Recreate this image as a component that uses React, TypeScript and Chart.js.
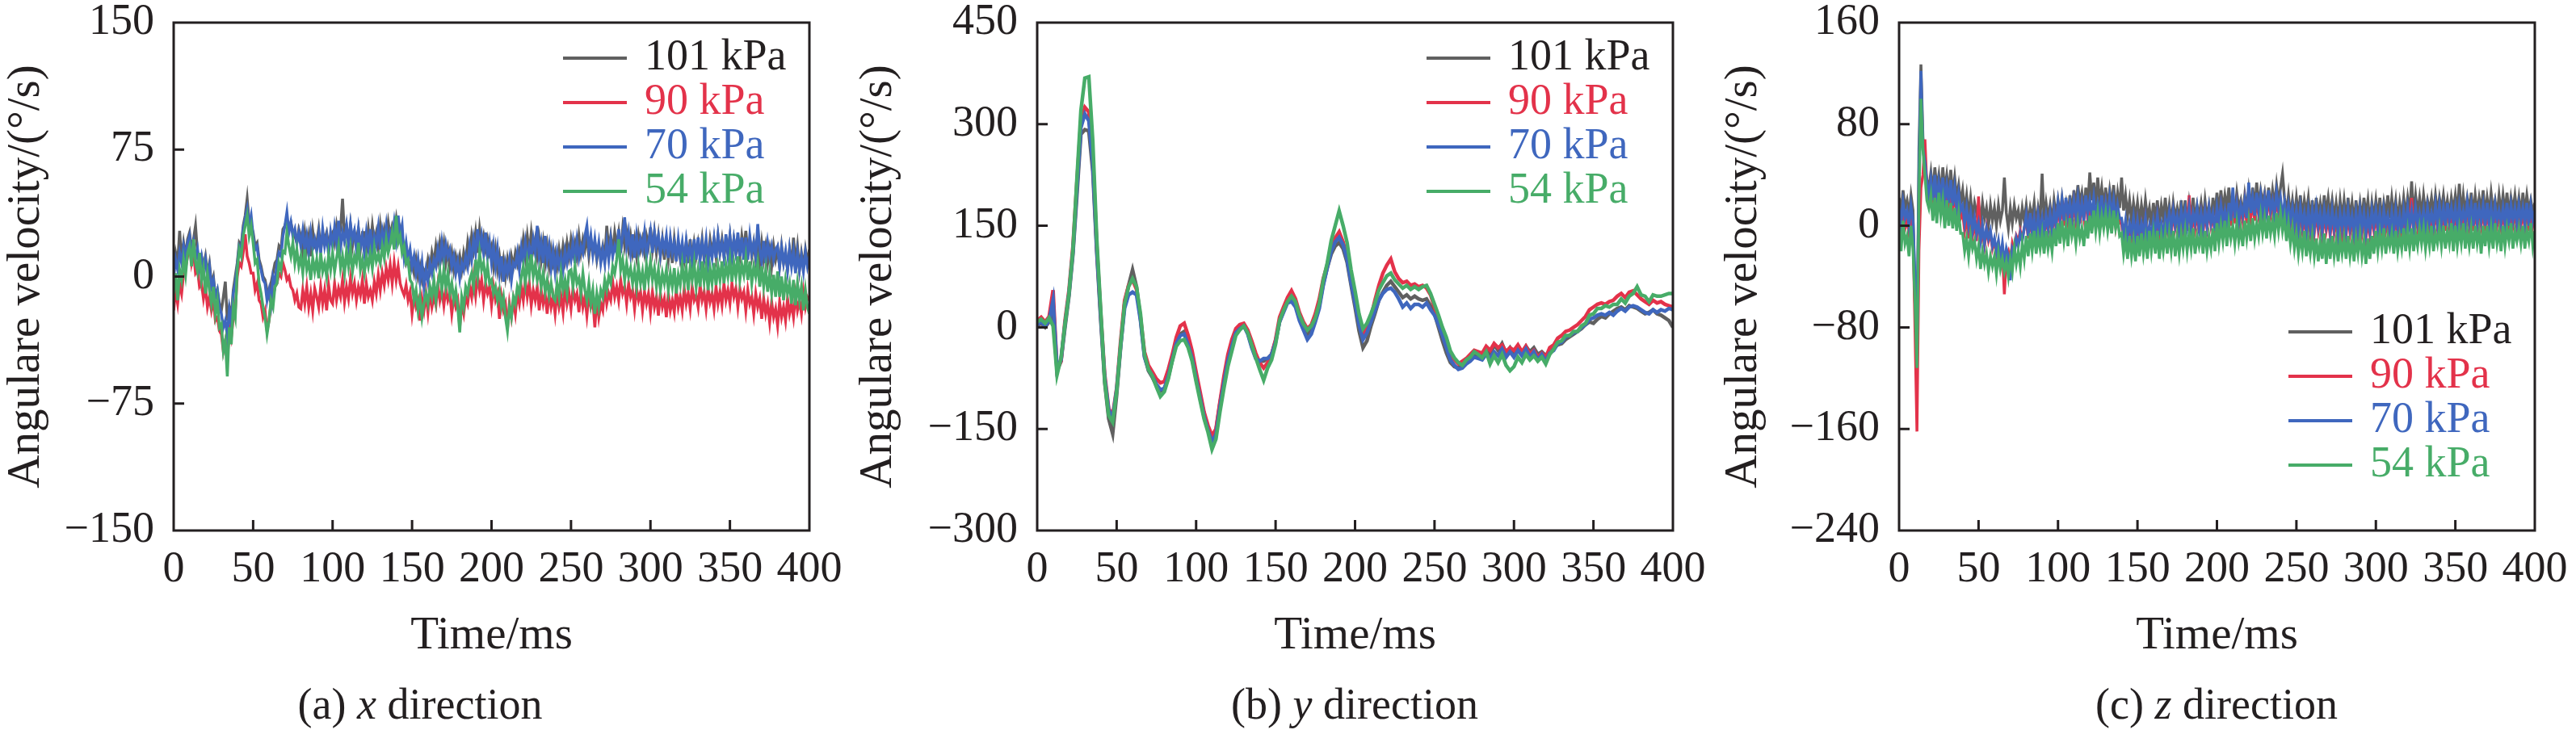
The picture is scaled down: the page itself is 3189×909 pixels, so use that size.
import React, { useEffect, useRef } from "react"
import { Chart, registerables } from "chart.js"

Chart.register(...registerables)

const FONT = "'Liberation Serif', 'Times New Roman', serif"
const INK = "#231f20"
const CANVAS_H = 840
const PLOT_W = 787

// sample grids from 0 to 400 ms
const timeFine = Array.from({ length: 321 }, (_, i) => i * 1.25)
const timeCoarse = Array.from({ length: 161 }, (_, i) => i * 2.5)
const xTickValues = [0, 50, 100, 150, 200, 250, 300, 350, 400]

const pressureLabels = ["101 kPa", "90 kPa", "70 kPa", "54 kPa"]
const lineColors = ["#606060", "#e3324a", "#3f67be", "#47ac68"]
const legendTextColors = [INK, "#e3324a", "#3f67be", "#47ac68"]

// (a) x direction, one row = 10 ms
const xTicksA = [-150, -75, 0, 75, 150]
const xDir101 = [
  4, 14, 8, 27, 10, 20, 12, 22,
  26, 16, 22, 30, 14, 8, 12, 6,
  12, 2, 8, -4, 0, -12, -8, -16,
  -20, -12, -3, -26, -18, -24, -8, 0,
  8, 20, 18, 30, 36, 46, 32, 30,
  26, 18, 20, 10, 6, 0, -2, -8,
  -12, -4, 2, 8, 10, 18, 16, 28,
  30, 34, 28, 32, 26, 24, 20, 28,
  24, 14, 26, 16, 24, 12, 27, 18,
  20, 28, 16, 24, 22, 26, 18, 24,
  26, 20, 30, 22, 28, 46, 24, 30,
  20, 30, 18, 26, 22, 28, 16, 26,
  26, 16, 28, 18, 30, 20, 26, 16,
  30, 20, 28, 22, 32, 24, 30, 26,
  34, 24, 28, 18, 14, 8, 12, 4,
  8, 2, 10, 0, 6, -2, 4, 2,
  10, 4, 14, 8, 18, 10, 20, 12,
  20, 8, 16, 6, 14, 4, 12, 6,
  12, 4, 14, 8, 20, 12, 24, 16,
  26, 14, 28, 18, 24, 16, 22, 14,
  18, 6, 16, 4, 12, 2, 10, 0,
  10, 2, 12, 6, 14, 8, 16, 12,
  22, 12, 24, 14, 26, 16, 22, 12,
  22, 10, 20, 8, 18, 6, 16, 8,
  14, 6, 16, 8, 18, 10, 20, 12,
  22, 14, 20, 12, 24, 14, 22, 16,
  24, 12, 22, 14, 20, 10, 18, 12,
  18, 10, 30, 16, 24, 14, 26, 18,
  26, 14, 28, 18, 26, 16, 24, 14,
  22, 12, 24, 16, 22, 14, 24, 18,
  29, 16, 26, 14, 24, 12, 22, 10,
  22, 10, 20, 8, 22, 12, 18, 10,
  18, 10, 20, 8, 22, 10, 20, 12,
  20, 12, 22, 10, 18, 12, 22, 14,
  22, 12, 24, 14, 22, 12, 20, 14,
  24, 12, 22, 14, 20, 12, 24, 16,
  27, 14, 22, 12, 20, 10, 18, 8,
  20, 10, 18, 8, 16, 6, 18, 10,
  16, 6, 18, 8, 14, 4, 16, 6,
  23, 8, 18, 4, 14, 6, 16, 8,
  16,
]
const xDir90 = [
  -20, -8, -16, -4, -10, 2, 5, 12,
  20, 8, 14, 2, 4, -6, -4, -13,
  -6, -18, -12, -20, -14, -26, -24, -32,
  -34, -44, -38, -50, -30, -36, -24, -20,
  0, 8, 6, 14, 25, 12, 8, 2,
  2, -8, -4, -14, -16, -24, -20, -32,
  -26, -16, -12, -6, -4, 2, 0, 8,
  4, -2, 0, -6, -8, -14, -10, -18,
  -19, -8, -16, -6, -18, -10, -20, -7,
  -12, -18, -6, -16, -8, -20, -5, -14,
  -16, -4, -14, -7, -12, -2, -15, -6,
  -13, -1, -10, -4, -14, -6, -11, -2,
  -16, -4, -12, -8, -14, -3, -10, 1,
  -8, 2, -5, 5, -2, 7, -4, 8,
  -2, 6, -4, -8, -11, -5, -14, -9,
  -22, -12, -18, -14, -26, -13, -20, -10,
  -21, -9, -18, -12, -17, -5, -14, -8,
  -17, -7, -14, -10, -22, -12, -18, -14,
  -30, -16, -22, -12, -16, -6, -12, 0,
  -11, 1, -8, -2, -14, -4, -10, -6,
  -17, -6, -14, -10, -25, -12, -20, -16,
  -31, -16, -24, -14, -22, -10, -16, -6,
  -14, -2, -12, -4, -17, -8, -14, -6,
  -20, -8, -16, -10, -22, -9, -18, -12,
  -22, -9, -18, -12, -21, -6, -16, -10,
  -19, -7, -14, -10, -21, -8, -18, -12,
  -23, -11, -18, -14, -30, -13, -24, -16,
  -20, -6, -16, -10, -14, -3, -12, -6,
  -14, -2, -10, -6, -16, -4, -12, -8,
  -19, -7, -14, -9, -20, -9, -16, -10,
  -21, -9, -18, -12, -23, -10, -18, -13,
  -24, -10, -20, -14, -21, -8, -18, -12,
  -20, -7, -16, -10, -19, -6, -14, -11,
  -18, -5, -14, -9, -19, -7, -15, -10,
  -19, -6, -16, -9, -17, -4, -14, -8,
  -16, -4, -12, -7, -18, -7, -13, -9,
  -20, -8, -16, -12, -22, -10, -18, -13,
  -25, -13, -22, -16, -27, -15, -24, -19,
  -29, -15, -24, -18, -26, -13, -22, -16,
  -24, -11, -20, -14, -22, -9, -18, -12,
  -14,
]
const xDir70 = [
  0, 10, 4, 14, 8, 18, 12, 20,
  24, 14, 20, 10, 16, 6, 12, 4,
  10, 0, 6, -6, -2, -12, -8, -18,
  -22, -30, -26, -35, -20, -28, -10, -4,
  6, 18, 16, 28, 34, 40, 30, 36,
  24, 16, 18, 8, 4, -2, -4, -14,
  -8, -16, 0, -4, 8, 14, 12, 24,
  30, 38, 26, 32, 24, 28, 20, 26,
  18, 27, 16, 24, 14, 26, 17, 22,
  15, 25, 14, 28, 18, 24, 13, 26,
  18, 29, 20, 33, 17, 26, 21, 30,
  19, 31, 22, 27, 16, 28, 18, 24,
  14, 26, 17, 28, 15, 24, 19, 29,
  16, 27, 20, 30, 18, 26, 22, 32,
  22, 36, 24, 30, 12, 20, 10, 16,
  6, 12, 2, 10, -2, 8, -6, 4,
  -3, 8, 2, 10, 6, 16, 8, 20,
  10, 19, 12, 16, 6, 12, 2, 9,
  -1, 8, 4, 12, 6, 18, 10, 22,
  14, 28, 16, 24, 14, 26, 12, 20,
  8, 18, 6, 16, 2, 12, -3, 8,
  2, 10, -2, 8, 6, 14, 4, 17,
  9, 20, 10, 18, 12, 22, 14, 30,
  12, 20, 8, 24, 10, 18, 5, 15,
  3, 14, 6, 12, 4, 15, 8, 16,
  10, 20, 8, 21, 11, 18, 14, 24,
  30, 16, 24, 13, 22, 12, 20, 8,
  16, 8, 20, 10, 22, 12, 18, 14,
  28, 16, 24, 35, 18, 26, 14, 25,
  11, 24, 14, 22, 16, 26, 12, 20,
  27, 14, 26, 18, 24, 13, 22, 16,
  24, 11, 23, 14, 20, 9, 22, 12,
  20, 8, 21, 12, 18, 9, 22, 10,
  23, 10, 20, 12, 22, 8, 18, 11,
  22, 11, 24, 14, 20, 12, 25, 13,
  24, 12, 22, 14, 26, 12, 23, 10,
  23, 10, 24, 14, 20, 12, 31, 16,
  9, 21, 8, 20, 12, 18, 10, 16,
  18, 6, 17, 8, 15, 4, 16, 6,
  15, 2, 14, 4, 12, 3, 14, 6,
  12,
]
const xDir54 = [
  -10, 2, -14, 4, -2, 10, 1, 14,
  18, 6, 22, 9, 3, 14, -2, 5,
  -10, 2, -8, -16, -6, -22, -14, -30,
  -28, -44, -38, -59, -30, -40, -18, -24,
  4, 16, 12, 24, 30, 36, 24, 30,
  20, 8, 10, -4, -10, -18, -24, -34,
  -26, -14, -18, -6, -4, 8, 4, 15,
  14, 26, 18, 12, 20, 8, 16, 6,
  12, 2, 16, 4, 9, -2, 11, 3,
  10, -1, 14, 3, 8, 0, 13, 4,
  14, 3, 11, 18, 5, 12, 2, 15,
  6, 16, 3, 12, 8, 20, 4, 10,
  2, 12, 6, 14, 5, 17, 9, 13,
  8, 18, 11, 22, 14, 19, 26, 16,
  36, 20, 24, 14, 18, 8, 10, -2,
  -4, -14, -8, -20, -12, -24, -16, -10,
  -16, -6, -12, -2, -14, -4, 3, -8,
  4, -6, 2, -10, -4, -14, -8, -18,
  -33, -12, -18, -6, -10, -2, 2, -6,
  10, 0, 14, 4, 8, -2, 6, -4,
  -2, -10, -6, -14, -8, -18, -12, -24,
  -32, -18, -24, -12, -16, -6, -10, 0,
  6, -4, 9, 1, 13, 0, 7, -2,
  4, -6, 2, -9, -2, -11, -4, -12,
  -14, -4, -12, 2, -8, -2, -10, 3,
  4, -6, 6, -4, -1, -10, 2, -8,
  -14, -4, -16, -8, -22, -10, -18, -8,
  -12, -2, -8, 0, -4, 6, 2, 10,
  22, 4, 10, -2, 8, 0, 5, -4,
  4, -6, 6, -4, 3, -8, 7, -2,
  9, -2, 5, -6, 4, -8, 2, -4,
  4, -8, 2, -6, 5, -10, 1, -5,
  7, -4, 5, -8, 6, -2, 8, -6,
  4, -6, 9, -3, 6, -8, 5, -4,
  8, -5, 6, -2, 9, -4, 7, 0,
  10, -3, 8, 0, 12, -2, 7, 1,
  11, -2, 9, -4, 6, 0, 8, -6,
  6, -6, 4, -9, 2, -10, 1, -12,
  3, -12, 0, -14, -2, -10, -4, -16,
  -2, -17, -4, -14, -6, -20, -8, -18,
  -22,
]

// (b) y direction, one row = 20 ms
const yTicksB = [-300, -150, 0, 150, 300, 450]
const yDir101 = [
  2, 6, 0, 8, 20, -64, -50, 0, 46, 108, 195, 285, 292, 290, 230, 110,
  10, -82, -135, -157, -100, -30, 35, 62, 85, 60, 12, -42, -64, -74, -86, -94,
  -92, -74, -48, -24, -10, -6, -24, -44, -74, -100, -128, -150, -165, -152, -112, -78,
  -46, -24, -6, 0, 4, -8, -28, -44, -50, -50, -46, -40, -20, 8, 24, 40,
  42, 34, 14, 0, -10, -4, 12, 32, 64, 88, 108, 120, 125, 116, 96, 62,
  30, -5, -30, -20, 2, 20, 40, 52, 62, 68, 60, 52, 44, 48, 42, 46,
  42, 40, 42, 32, 20, 0, -20, -38, -52, -58, -60, -56, -52, -48, -42, -44,
  -42, -32, -40, -26, -34, -24, -38, -30, -40, -30, -38, -28, -36, -30, -40, -36,
  -42, -34, -30, -26, -24, -18, -14, -10, -6, -2, 4, 8, 6, 12, 16, 14,
  20, 24, 28, 30, 26, 32, 30, 28, 24, 20, 22, 26, 20, 18, 14, 10,
  0,
]
const yDir90 = [
  10, 15, 8, 16, 55, -62, -50, 10, 55, 120, 215, 305, 325, 318, 250, 120,
  20, -70, -120, -130, -90, -20, 40, 62, 70, 56, 15, -36, -56, -66, -76, -82,
  -80, -62, -40, -15, 2, 6, -12, -35, -66, -95, -125, -145, -160, -150, -110, -72,
  -40, -18, -2, 4, 6, -4, -20, -38, -52, -60, -52, -40, -18, 15, 30, 44,
  54, 42, 22, 8, -2, 4, 20, 42, 72, 92, 118, 132, 141, 126, 105, 70,
  40, 10, -12, 0, 15, 40, 62, 80, 92, 101, 82, 72, 66, 68, 62, 64,
  60, 62, 58, 48, 30, 10, -8, -24, -40, -48, -54, -50, -46, -40, -34, -36,
  -38, -28, -34, -24, -30, -26, -36, -30, -34, -26, -36, -28, -40, -34, -44, -38,
  -44, -30, -26, -16, -12, -6, -4, 0, 4, 10, 16, 26, 30, 34, 36, 34,
  38, 40, 46, 50, 44, 52, 54, 48, 42, 38, 34, 40, 36, 38, 34, 32,
  30,
]
const yDir70 = [
  4, 8, 2, 10, 40, -62, -48, 5, 50, 112, 205, 295, 315, 305, 240, 115,
  15, -75, -122, -134, -92, -28, 28, 48, 52, 48, 10, -44, -62, -72, -84, -92,
  -90, -72, -48, -24, -12, -10, -26, -46, -76, -104, -132, -152, -169, -158, -118, -82,
  -50, -28, -8, -2, 2, -10, -30, -46, -50, -46, -46, -40, -22, 8, 22, 36,
  38, 30, 10, -4, -18, -10, 8, 28, 62, 88, 112, 126, 133, 122, 100, 66,
  36, 4, -18, -8, 8, 24, 40, 50, 56, 58, 52, 42, 30, 36, 28, 34,
  34, 30, 36, 26, 18, 4, -12, -30, -48, -56, -62, -60, -54, -50, -44, -46,
  -48, -40, -46, -36, -42, -32, -44, -36, -44, -34, -42, -32, -44, -36, -48, -40,
  -50, -38, -34, -24, -22, -14, -12, -8, -6, 0, 4, 12, 14, 18, 20, 18,
  22, 18, 24, 28, 24, 30, 32, 30, 26, 22, 20, 26, 22, 26, 24, 28,
  26,
]
const yDir54 = [
  8, 12, 6, 14, 2, -70, -45, 5, 50, 115, 220, 320, 368, 370, 275, 130,
  25, -80, -130, -140, -95, -26, 35, 60, 72, 60, 20, -40, -62, -72, -88, -102,
  -95, -76, -50, -28, -20, -18, -30, -50, -80, -108, -135, -155, -180, -165, -125, -90,
  -58, -35, -12, -4, 2, -8, -26, -45, -62, -78, -60, -48, -25, 10, 25, 38,
  46, 38, 18, 5, -4, 2, 14, 35, 70, 95, 128, 150, 172, 150, 125, 85,
  54, 20, -2, 6, 20, 36, 55, 66, 76, 80, 70, 64, 58, 62, 56, 60,
  56, 60, 62, 50, 34, 18, 0, -15, -35, -45, -52, -56, -48, -44, -36, -40,
  -45, -36, -54, -42, -52, -40, -56, -64, -58, -44, -52, -40, -48, -42, -50, -44,
  -54, -40, -32, -22, -20, -12, -12, -6, -6, 2, 6, 18, 20, 28, 28, 32,
  30, 34, 34, 42, 36, 46, 50, 60, 48, 46, 38, 48, 46, 46, 48, 50,
  50,
]

// (c) z direction, one row = 10 ms
const zTicksC = [-240, -160, -80, 0, 80, 160]
const zDir101 = [
  22, 10, 28, 14, 20, 8, 24, 12,
  -60, -100, 60, 127, 70, 45, 36, 30,
  42, 26, 46, 30, 40, 24, 46, 28,
  40, 26, 44, 24, 38, 22, 32, 18,
  28, 12, 24, 8, 22, 6, 18, 10,
  16, 2, 18, 6, 14, 0, 16, 4,
  14, 0, 16, 4, 12, 38, 10, -2,
  14, 2, 16, 6, 12, 0, 14, 4,
  16, 2, 14, 6, 18, 0, 14, 4,
  41, 4, 18, 6, 16, 2, 20, 8,
  20, 8, 22, 10, 18, 6, 24, 10,
  28, 14, 32, 18, 26, 12, 30, 16,
  42, 20, 34, 16, 38, 18, 30, 14,
  30, 14, 28, 16, 32, 12, 26, 14,
  38, 12, 24, 8, 20, 4, 18, 6,
  18, 2, 16, 4, 20, 6, 14, 0,
  18, 4, 20, 2, 16, 6, 22, 4,
  16, 2, 18, 6, 14, 4, 20, 2,
  20, 2, 18, 6, 22, 4, 16, 8,
  18, 4, 20, 6, 16, 2, 22, 8,
  26, 10, 28, 12, 24, 14, 30, 12,
  22, 10, 26, 14, 20, 8, 24, 12,
  28, 14, 30, 12, 34, 16, 28, 18,
  26, 12, 30, 14, 28, 16, 32, 18,
  30, 41, 22, 10, 24, 8, 20, 6,
  22, 8, 24, 6, 20, 10, 22, 4,
  20, 4, 22, 8, 18, 6, 24, 10,
  22, 8, 20, 6, 18, 4, 20, 6,
  20, 4, 22, 6, 18, 2, 20, 6,
  18, 4, 22, 8, 20, 2, 18, 6,
  20, 6, 22, 4, 18, 8, 24, 6,
  22, 8, 20, 4, 18, 6, 22, 8,
  22, 10, 35, 8, 24, 10, 22, 8,
  24, 10, 20, 12, 22, 8, 24, 10,
  22, 12, 24, 10, 20, 8, 22, 12,
  24, 10, 33, 8, 24, 10, 22, 12,
  26, 8, 24, 10, 22, 12, 28, 8,
  22, 10, 26, 12, 20, 8, 24, 10,
  24, 10, 26, 8, 22, 12, 24, 10,
  22, 8, 26, 10, 24, 12, 20, 10,
  18,
]
const zDir90 = [
  8, -4, 12, -2, 6, -6, 10, -2,
  -80, -162, -20, 30, 40, 68, 30, 20,
  30, 14, 34, 10, 28, 16, 32, 12,
  28, 10, 30, 14, 24, 8, 22, 6,
  10, -4, 8, -10, 6, -8, 4, -12,
  23, -14, -4, -16, -2, -12, -6, -18,
  -12, -22, -14, -28, -20, -54, -24, -20,
  -30, -14, -20, -8, -12, -4, -10, -2,
  6, -10, 8, -8, 4, -12, 6, -6,
  4, -8, 6, -4, 8, -6, 10, -2,
  16, 2, 18, 0, 20, 4, 14, 2,
  18, 4, 20, 2, 16, 6, 22, 4,
  16, 4, 18, 2, 14, 6, 20, 0,
  16, 2, 18, 4, 14, 0, 12, 2,
  2, -12, 0, -14, -2, -10, 4, -14,
  2, -10, 0, -12, 4, -8, -2, -10,
  2, -10, 6, -8, 0, -6, 4, -4,
  8, -6, 10, -2, 6, -8, 10, -4,
  8, -4, 24, -6, 8, -2, 12, -6,
  8, -6, 10, -2, 12, 0, 8, -6,
  12, -2, 14, 0, 10, -4, 16, 0,
  20, 2, 16, 0, 14, 4, 18, 2,
  24, 6, 18, 4, 22, 8, 20, 6,
  20, 6, 24, 8, 18, 4, 22, 10,
  18, 2, 14, -2, 12, 0, 10, -4,
  8, -6, 10, -4, 6, -8, 8, -6,
  8, -6, 10, -4, 6, -8, 8, -4,
  6, -8, 8, -6, 4, -10, 6, -8,
  6, -8, 8, -6, 4, -10, 6, -8,
  8, -6, 6, -10, 4, -8, 8, -4,
  8, -6, 6, -10, 8, -4, 4, -8,
  6, -8, 8, -6, 4, -10, 8, -4,
  10, -4, 22, -6, 10, -2, 6, -4,
  8, -6, 10, -2, 6, -4, 12, -2,
  12, -2, 10, -4, 14, 0, 10, -2,
  10, -4, 12, 0, 8, -2, 14, 0,
  12, -4, 14, -2, 10, 0, 12, -4,
  14, -2, 10, -4, 12, 0, 8, -2,
  10, -2, 14, -4, 12, 0, 10, -2,
  12, 0, 10, -2, 14, -4, 12, 0,
  8,
]
const zDir70 = [
  14, 2, 18, 6, 12, 0, 16, 4,
  -40, -92, 40, 122, 60, 50, 34, 24,
  36, 20, 40, 18, 34, 22, 38, 20,
  32, 18, 36, 16, 30, 14, 26, 12,
  16, 2, 14, 0, 10, -4, 6, -6,
  2, -12, 0, -14, -2, -10, -4, -16,
  -10, -20, -12, -26, -14, -30, -18, -24,
  -43, -18, -22, -10, -16, -6, -12, -2,
  8, -8, 10, -6, 6, -10, 8, -4,
  6, -6, 8, -2, 10, -4, 12, 0,
  18, 6, 20, 4, 22, 8, 18, 6,
  20, 8, 22, 6, 18, 4, 24, 10,
  20, 8, 22, 6, 18, 10, 24, 4,
  18, 6, 22, 8, 20, 4, 16, 6,
  6, -8, 4, -10, 2, -6, 6, -10,
  4, -8, 2, -6, 6, -10, 0, -8,
  4, -6, 8, -4, 2, -8, 6, -2,
  10, -2, 12, 0, 8, -4, 12, 0,
  12, 0, 14, -2, 10, 2, 14, -2,
  10, -2, 12, 0, 14, 2, 10, -4,
  14, 2, 16, 4, 12, 0, 18, 4,
  30, 6, 18, 4, 16, 8, 20, 6,
  34, 10, 22, 8, 26, 12, 24, 10,
  22, 10, 28, 12, 20, 8, 26, 14,
  22, 6, 18, 2, 16, 4, 14, 0,
  12, -2, 14, 0, 10, -4, 12, -2,
  12, -2, 14, 0, 10, -4, 12, 0,
  10, -4, 12, -2, 8, -6, 10, -2,
  10, -4, 12, -2, 8, -6, 10, -4,
  12, -2, 10, -6, 8, -4, 12, 0,
  12, -2, 10, -6, 12, 0, 8, -4,
  10, -4, 12, -2, 8, -6, 12, 0,
  14, 0, 12, -2, 14, 2, 10, 0,
  12, -2, 14, 2, 10, 0, 16, 2,
  16, 2, 14, 0, 18, 4, 14, 2,
  14, 0, 16, 4, 12, 2, 18, 4,
  16, 0, 18, 2, 14, 4, 16, 0,
  18, 2, 14, 0, 16, 4, 12, 2,
  14, 2, 18, 0, 16, 4, 14, 2,
  16, 4, 14, 2, 18, 0, 16, 4,
  12,
]
const zDir54 = [
  -2, -20, 4, -14, -8, -24, 0, -18,
  -60, -112, 20, 100, 60, 40, 20, 14,
  24, 4, 22, 2, 26, 8, 20, -2,
  20, 0, 18, -2, 14, -4, 10, -6,
  -6, -20, -10, -24, -8, -18, -12, -26,
  -16, -34, -20, -30, -22, -36, -24, -32,
  -24, -38, -22, -34, -26, -36, -28, -40,
  -26, -36, -18, -30, -20, -32, -14, -26,
  -8, -24, -6, -20, -4, -22, -8, -18,
  -6, -22, -4, -18, -8, -20, -2, -16,
  2, -14, 4, -12, 0, -16, 6, -8,
  0, -14, 2, -10, -2, -16, 4, -10,
  8, -6, 12, -4, 10, -6, 8, -2,
  10, -4, 8, -6, 12, -2, 6, -8,
  -6, -22, -10, -26, -8, -24, -12, -28,
  -8, -24, -6, -22, -10, -26, -4, -20,
  -6, -22, -4, -26, -8, -20, -6, -22,
  -6, -20, -4, -24, -8, -22, -6, -18,
  -4, -20, -6, -18, -2, -22, -8, -16,
  -6, -22, -4, -20, -8, -18, -2, -20,
  2, -14, 0, -12, 4, -16, 2, -10,
  0, -14, 2, -12, -2, -16, 4, -10,
  4, -12, 6, -10, 2, -8, 8, -6,
  6, -10, 8, -6, 4, -8, 10, -4,
  10, -4, 6, -12, 2, -14, -2, -18,
  -6, -22, -8, -20, -4, -24, -10, -22,
  -8, -24, -10, -28, -12, -26, -6, -30,
  -10, -26, -8, -24, -12, -28, -10, -22,
  -10, -26, -8, -24, -12, -28, -10, -22,
  -8, -24, -12, -30, -10, -26, -8, -22,
  -4, -20, -6, -18, -2, -22, -8, -16,
  -6, -22, -4, -20, -8, -18, -2, -20,
  -4, -18, -2, -20, -6, -16, -2, -14,
  -2, -18, -4, -16, 0, -20, -6, -14,
  -2, -16, 0, -18, -4, -14, 2, -20,
  0, -16, -2, -14, 2, -18, -4, -16,
  -2, -18, 0, -14, -4, -22, 0, -16,
  0, -16, -2, -18, 2, -14, -4, -20,
  0, -16, -2, -12, 2, -18, -4, -12,
  -2, -14, 0, -18, -4, -12, 2, -16,
  -4,
]

type PanelSpec = {
  series: number[][]
  time: number[]
  yTicks: number[]
  left: number
  width: number
  axisWidth: number
  legendTop: number
  lineWidth: number
}

const panels: PanelSpec[] = [
  { series: [xDir101, xDir90, xDir70, xDir54], time: timeFine, yTicks: xTicksA, left: 0, width: 1060, axisWidth: 215, legendTop: 44, lineWidth: 3.5 },
  { series: [yDir101, yDir90, yDir70, yDir54], time: timeCoarse, yTicks: yTicksB, left: 1055, width: 1066, axisWidth: 229, legendTop: 44, lineWidth: 4.5 },
  { series: [zDir101, zDir90, zDir70, zDir54], time: timeFine, yTicks: zTicksC, left: 2126, width: 1063, axisWidth: 225, legendTop: 383, lineWidth: 3.5 },
]

const captions = [
  { tag: "(a)", axis: "x", center: 520 },
  { tag: "(b)", axis: "y", center: 1677 },
  { tag: "(c)", axis: "z", center: 2744 },
]

const fmt = (v: number) => (v < 0 ? "\u2212" + Math.abs(v) : String(v))

const Panel: React.FC<{ spec: PanelSpec }> = ({ spec }) => {
  const canvasRef = useRef<HTMLCanvasElement>(null)

  useEffect(() => {
    const ctx = canvasRef.current?.getContext("2d")
    if (!ctx) return

    const yMin = spec.yTicks[0]
    const yMax = spec.yTicks[spec.yTicks.length - 1]

    // box, inward ticks and the legend
    const framePlugin = {
      id: "frame",
      afterDraw(chart: Chart) {
        const c = chart.ctx
        const { left, right, top, bottom } = chart.chartArea
        const xs = chart.scales.x
        const ys = chart.scales.y
        c.save()
        c.strokeStyle = INK
        c.lineWidth = 3
        c.beginPath()
        xTickValues.slice(1, -1).forEach((v) => {
          const px = xs.getPixelForValue(v)
          c.moveTo(px, bottom)
          c.lineTo(px, bottom - 13)
        })
        spec.yTicks.slice(1, -1).forEach((v) => {
          const py = ys.getPixelForValue(v)
          c.moveTo(left, py)
          c.lineTo(left + 13, py)
        })
        c.stroke()
        c.strokeRect(left, top, right - left, bottom - top)

        c.font = `54px ${FONT}`
        c.textBaseline = "middle"
        c.textAlign = "left"
        pressureLabels.forEach((label, i) => {
          const y = top + spec.legendTop + i * 55
          c.strokeStyle = lineColors[i]
          c.lineWidth = 4
          c.beginPath()
          c.moveTo(right - 305, y)
          c.lineTo(right - 226, y)
          c.stroke()
          c.fillStyle = legendTextColors[i]
          c.fillText(label, right - 204, y)
        })
        c.restore()
      },
    }

    const chart = new Chart(ctx, {
      type: "line",
      data: {
        datasets: spec.series.map((values, i) => ({
          label: pressureLabels[i],
          data: spec.time.map((t, k) => ({ x: t, y: values[k] })),
          borderColor: lineColors[i],
          borderWidth: spec.lineWidth,
          pointRadius: 0,
          tension: 0,
          fill: false,
          order: 4 - i,
        })),
      },
      options: {
        animation: false,
        responsive: false,
        devicePixelRatio: 1,
        layout: {
          padding: { left: 0, top: 28, bottom: 0, right: spec.width - spec.axisWidth - PLOT_W },
        },
        plugins: {
          legend: { display: false },
          tooltip: { enabled: false },
        },
        scales: {
          x: {
            type: "linear",
            min: 0,
            max: 400,
            afterBuildTicks: (s: any) => {
              s.ticks = xTickValues.map((value) => ({ value }))
            },
            afterFit: (s: any) => {
              s.height = CANVAS_H - 28 - 629
              s.paddingLeft = 0
              s.paddingRight = 0
            },
            grid: { display: false, drawTicks: false },
            border: { display: false },
            ticks: {
              autoSkip: false,
              maxRotation: 0,
              padding: 22,
              color: INK,
              font: { family: FONT, size: 54, lineHeight: 1 },
              callback: (v: any) => fmt(Number(v)),
            },
            title: {
              display: true,
              text: "Time/ms",
              color: INK,
              font: { family: FONT, size: 57, lineHeight: 1 },
              padding: { top: 0, bottom: 23 },
            },
          },
          y: {
            type: "linear",
            min: yMin,
            max: yMax,
            afterBuildTicks: (s: any) => {
              s.ticks = spec.yTicks.map((value) => ({ value }))
            },
            afterFit: (s: any) => {
              s.width = spec.axisWidth
              s.paddingTop = 0
              s.paddingBottom = 0
            },
            grid: { display: false, drawTicks: false },
            border: { display: false },
            ticks: {
              padding: 24,
              color: INK,
              font: { family: FONT, size: 54, lineHeight: 1 },
              callback: (v: any) => fmt(Number(v)),
            },
            title: {
              display: true,
              text: "Angulare velocity/(\u00b0/s)",
              color: INK,
              font: { family: FONT, size: 57, lineHeight: 1 },
              padding: { top: 5, bottom: 0 },
            },
          },
        },
      },
      plugins: [framePlugin],
    })

    return () => {
      chart.destroy()
    }
  }, [spec])

  return (
    <canvas
      ref={canvasRef}
      width={spec.width}
      height={CANVAS_H}
      style={{ position: "absolute", left: spec.left, top: 0, width: spec.width, height: CANVAS_H }}
    />
  )
}

const App: React.FC = () => {
  return (
    <div style={{ position: "absolute", left: 0, top: 0, width: 3189, height: 909, background: "#fff", overflow: "hidden" }}>
      {panels.map((p, i) => (
        <Panel key={i} spec={p} />
      ))}
      {captions.map((c) => (
        <div
          key={c.tag}
          style={{
            position: "absolute",
            left: c.center - 300,
            top: 845,
            width: 600,
            textAlign: "center",
            fontFamily: FONT,
            fontSize: 54,
            lineHeight: "54px",
            color: INK,
            whiteSpace: "nowrap",
          }}
        >
          {c.tag} <i>{c.axis}</i> direction
        </div>
      ))}
    </div>
  )
}

export default App
